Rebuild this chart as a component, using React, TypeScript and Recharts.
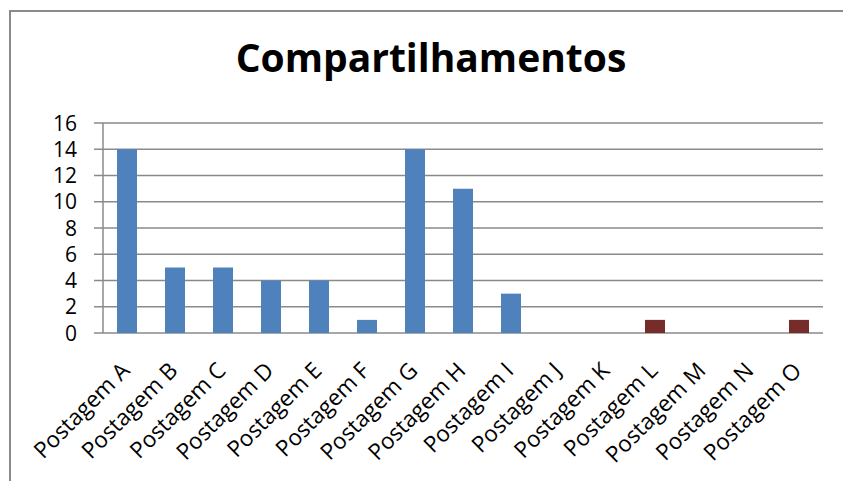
import React from 'react';
import { BarChart, Bar, XAxis, YAxis, CartesianGrid, Cell } from 'recharts';

const categories = ['Postagem A','Postagem B','Postagem C','Postagem D','Postagem E','Postagem F','Postagem G','Postagem H','Postagem I','Postagem J','Postagem K','Postagem L','Postagem M','Postagem N','Postagem O'];
const shares = [14, 5, 5, 4, 4, 1, 14, 11, 3, 0, 0, 1, 0, 0, 1];
const barColors = ['#4F81BD','#4F81BD','#4F81BD','#4F81BD','#4F81BD','#4F81BD','#4F81BD','#4F81BD','#4F81BD','#4F81BD','#4F81BD','#772C2A','#4F81BD','#4F81BD','#772C2A'];
const yTicks = [0, 2, 4, 6, 8, 10, 12, 14, 16];
const boundaryTicks = [0, 1, 2, 3, 4, 5, 6, 7, 8, 9, 10, 11, 12, 13, 14, 15];

const data = categories.map((name, i) => ({ name, value: shares[i], idx: i + 0.5 }));

const FONT = '"Open Sans", "Liberation Sans", sans-serif';

const XTick = (props: any) => {
  const { x, y, payload } = props;
  const ax = x + 4;
  const ay = y + 39;
  return (
    <text
      x={ax}
      y={ay}
      transform={`rotate(-45, ${ax}, ${ay})`}
      textAnchor="end"
      fontSize={22.5}
      fontFamily={FONT}
      fill="#000"
    >
      {payload.value}
    </text>
  );
};

const YTick = (props: any) => {
  const { x, y, payload } = props;
  return (
    <text x={x} y={y} dy={7.5} textAnchor="end" fontSize={21} fontFamily={FONT} fill="#000">
      {payload.value}
    </text>
  );
};

export default function App() {
  return (
    <div style={{ position: 'fixed', left: 0, top: 0, width: 843, height: 481, background: '#fff', overflow: 'hidden' }}>
      <div style={{ position: 'absolute', left: 9, top: 10, width: 834, height: 471, borderLeft: '2px solid #8a8a8a', borderTop: '2px solid #8a8a8a', boxSizing: 'border-box' }} />
      <div style={{ position: 'absolute', left: 0, top: 31, width: 843, paddingLeft: 19, boxSizing: 'border-box', textAlign: 'center', fontFamily: FONT, fontWeight: 700, fontSize: 39, color: '#000', lineHeight: '52px', whiteSpace: 'nowrap' }}>
        Compartilhamentos
      </div>
      <div style={{ position: 'absolute', left: 0, top: 0 }}>
        <BarChart width={843} height={481} data={data} margin={{ top: 123, right: 20, bottom: 8, left: 43 }} barSize={20}>
          <CartesianGrid horizontal={true} vertical={false} stroke="#8a8a8a" strokeWidth={1.5} />
          <XAxis dataKey="name" xAxisId="cat" axisLine={false} tickLine={false} tickSize={0} tickMargin={0} interval={0} height={140} tick={<XTick />} />
          <XAxis xAxisId="edge" type="number" dataKey="idx" domain={[0, 15]} ticks={boundaryTicks} tick={false} tickSize={8} height={0} stroke="#8a8a8a" strokeWidth={1.5} allowDataOverflow />
          <YAxis domain={[0, 16]} ticks={yTicks} width={60} tickSize={9} tickMargin={17} stroke="#8a8a8a" strokeWidth={1.5} tick={<YTick />} interval={0} />
          <Bar dataKey="value" xAxisId="cat" isAnimationActive={false}>
            {data.map((d, i) => (
              <Cell key={d.name} fill={barColors[i]} />
            ))}
          </Bar>
        </BarChart>
      </div>
    </div>
  );
}
